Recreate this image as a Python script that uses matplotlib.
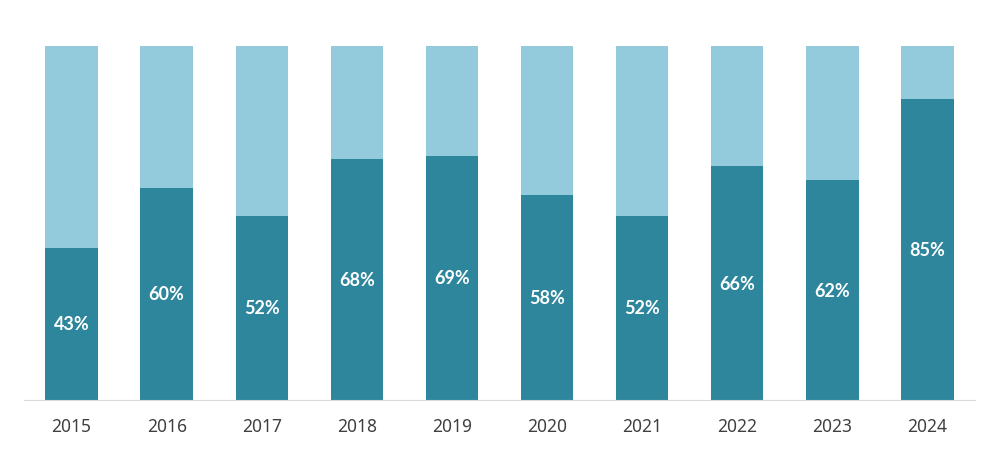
import numpy as np
import matplotlib.pyplot as plt

years = ['2015', '2016', '2017', '2018', '2019', '2020', '2021', '2022', '2023', '2024']
share = [43, 60, 52, 68, 69, 58, 52, 66, 62, 85]

dark = '#2E869C'
light = '#94CBDC'

fig = plt.figure(figsize=(10, 4.52), dpi=100)
ax = fig.add_axes([0.024, 0.113, 0.951, 0.783])
x = np.arange(len(years))
s = np.array(share) / 100
ax.bar(x, s, width=0.55, color=dark, zorder=2)
ax.bar(x, 1 - s, bottom=s, width=0.55, color=light, zorder=2)
for xi, v in zip(x, share):
    ax.text(xi, v / 200, f'{v}%', ha='center', va='center', color='white',
            fontsize=13, fontweight='bold', family='Lato')
ax.set_xlim(-0.5, len(years) - 0.5)
ax.set_ylim(0, 1)
ax.set_xticks(x, years, fontsize=12.5, color='#404040', family='Noto Sans')
ax.tick_params(axis='x', length=0, pad=12)
ax.set_yticks([])
for sp in ['top', 'right', 'left']:
    ax.spines[sp].set_visible(False)
ax.spines['bottom'].set_color('#D9D9D9')
ax.spines['bottom'].set_zorder(3)
fig.savefig('out.png', dpi=100)
